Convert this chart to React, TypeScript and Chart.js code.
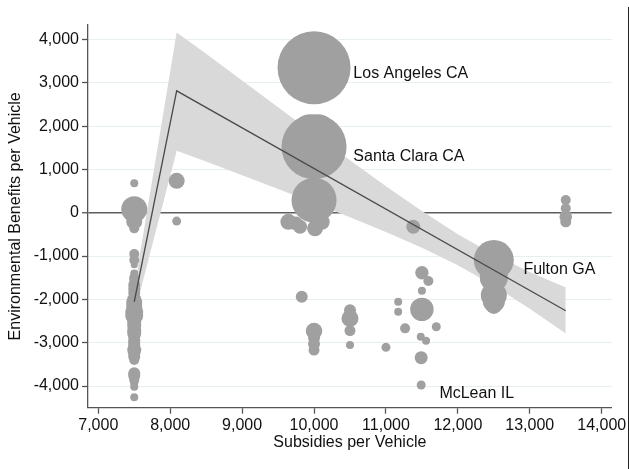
import { useEffect, useRef } from "react";
import { Chart, registerables } from "chart.js";

Chart.register(...registerables);

const FONT = "'Liberation Sans', Arial, Helvetica, sans-serif";

const xTickValues = [7000, 8000, 9000, 10000, 11000, 12000, 13000, 14000];
const yTickValues = [-4000, -3000, -2000, -1000, 0, 1000, 2000, 3000, 4000];

// bubbles: subsidy, benefit, radius
const bubbleX = [
  7500, 7500, 7500, 7500, 7500, 7500, 7500, 7500, 7500, 7500, 7500, 7500, 7500, 7500, 7500, 7500, 7500, 7500, 7500, 7500, 7500, 7500, 7500, 7500, 7500, 7500,
  7500, 7500, 7500, 7500, 7500, 7500, 7500, 7500, 7500, 7500, 7500, 7500, 7500,
  8090, 8090,
  10000, 10000, 9930, 10070, 10000, 9643, 9806, 10014, 10107, 9750,
  9829, 10000, 10000, 10000, 10000,
  10500, 10500, 10500, 10500,
  11000, 11170, 11170, 11266, 11380, 11500, 11590, 11500, 11500, 11700, 11484, 11558, 11490, 11490,
  12500, 12500, 12500, 12500, 12500,
  13500, 13500, 13500, 13500,
];
const bubbleY = [
  679, 80, -200, -360, -953, -1090, -1400, -1670, -1850, -2000, -2150, -2285, -2450, -2600, -2707, -2850, -2940, -3050, -3170, -3320, -3706, -3800, -3860, -4015, -4260, -1550,
  -1200, -1500, -1760, -2075, -2370, -2520, -2780, -3000, -3110, -3250, -3400, -3760, -3930,
  738, -192,
  3346, 1523, 1900, 1900, 290, -208, -323, -360, -208, -250,
  -1938, -2730, -2892, -3030, -3169,
  -2250, -2440, -2720, -3053,
  -3106, -2054, -2285, -2668, -323, -1385, -1576, -1800, -2230, -2631, -2862, -2954, -3346, -3977,
  -1092, -1500, -1900, -2050, -2150,
  293, 101, -92, -208,
];
const bubbleR = [
  4, 13, 8, 5, 5, 5, 4, 6, 6, 7, 8, 9, 7, 7, 7, 6, 6, 6, 7, 6, 6, 5, 5, 4, 4, 5,
  3.5, 5, 6, 8, 9, 7, 7, 6, 6, 6, 5, 6, 4,
  8, 4.5,
  36.5, 32.5, 16, 16, 22.5, 8, 7, 8, 8, 7,
  6, 8.3, 6, 6, 5.5,
  6, 8.5, 5.5, 4,
  4.5, 4, 4, 5, 7, 6.7, 5, 4, 11.7, 4.5, 4, 4, 6.5, 4.5,
  20, 14, 13, 11, 8,
  5, 5, 6.3, 5.5,
];

// fitted line
const fitX = [7500, 8090, 13500];
const fitY = [-2054, 2815, -2263];

// confidence band
const bandX = [7500, 8090, 8500, 9000, 9500, 10000, 10500, 11000, 11500, 12000, 12500, 13000, 13500];
const bandUpper = [-1750, 4163, 3674, 3053, 2435, 1819, 1211, 614, 39, -496, -965, -1369, -1723];
const bandLower = [-2350, 1431, 1186, 869, 549, 225, -105, -446, -809, -1214, -1683, -2217, -2785];

// point labels
const labelText = ["Los Angeles CA", "Santa Clara CA", "Fulton GA", "McLean IL"];
const labelX = [10547, 10547, 12911, 11743];
const labelY = [3205, 1305, -1310, -4180];

const fmt = (v: number) => Number(v).toLocaleString("en-US");

const labelPlugin = {
  id: "pointLabels",
  afterDatasetsDraw(chart: any) {
    const { ctx, scales } = chart;
    ctx.save();
    ctx.font = `16px ${FONT}`;
    ctx.fillStyle = "#111";
    ctx.textAlign = "left";
    ctx.textBaseline = "middle";
    labelText.forEach((t, i) => {
      ctx.fillText(t, scales.x.getPixelForValue(labelX[i]), scales.y.getPixelForValue(labelY[i]));
    });
    ctx.restore();
  },
};

export default function App() {
  const ref = useRef<HTMLCanvasElement | null>(null);

  useEffect(() => {
    document.body.style.margin = "0";
    const canvas = ref.current;
    if (!canvas) return;
    const chart = new Chart(canvas, {
      type: "bubble",
      data: {
        datasets: [
          {
            type: "line",
            data: bandX.map((x, i) => ({ x, y: bandUpper[i] })),
            borderColor: "rgba(0,0,0,0)",
            borderWidth: 0,
            pointRadius: 0,
            backgroundColor: "#d9d9d9",
            fill: "+1",
            tension: 0,
            order: 3,
          } as any,
          {
            type: "line",
            data: bandX.map((x, i) => ({ x, y: bandLower[i] })),
            borderColor: "rgba(0,0,0,0)",
            borderWidth: 0,
            pointRadius: 0,
            fill: false,
            tension: 0,
            order: 3,
          } as any,
          {
            type: "bubble",
            data: bubbleX.map((x, i) => ({ x, y: bubbleY[i], r: bubbleR[i] })),
            backgroundColor: "#a0a0a0",
            borderWidth: 0,
            hoverRadius: 0,
            order: 2,
          } as any,
          {
            type: "line",
            data: fitX.map((x, i) => ({ x, y: fitY[i] })),
            borderColor: "#4a4a4a",
            borderWidth: 1.3,
            pointRadius: 0,
            fill: false,
            tension: 0,
            order: 1,
          } as any,
        ],
      },
      options: {
        animation: false,
        responsive: false,
        events: [],
        layout: { padding: 0, autoPadding: false },
        plugins: { legend: { display: false }, tooltip: { enabled: false } },
        scales: {
          x: {
            type: "linear",
            min: 6857,
            max: 14139,
            afterBuildTicks: (s: any) => {
              s.ticks = xTickValues.map((value) => ({ value }));
            },
            afterFit: (s: any) => {
              s.height = 61.3;
              s.paddingLeft = 0;
              s.paddingRight = 17.3;
              s.paddingTop = 0;
              s.paddingBottom = 0;
            },
            grid: { drawOnChartArea: false, drawTicks: true, tickLength: 6, tickColor: "#555", tickWidth: 1.3 },
            border: { display: true, color: "#555", width: 1.3 },
            ticks: {
              font: { family: FONT, size: 16 },
              color: "#111",
              padding: 2.4,
              maxRotation: 0,
              autoSkip: false,
              callback: (v: any) => fmt(v),
            },
            title: {
              display: true,
              text: "Subsidies per Vehicle",
              font: { family: FONT, size: 16 },
              color: "#111",
              padding: { top: 0, bottom: 16.4 },
            },
          },
          y: {
            type: "linear",
            min: -4500,
            max: 4335,
            afterBuildTicks: (s: any) => {
              s.ticks = yTickValues.map((value) => ({ value }));
            },
            afterFit: (s: any) => {
              s.width = 88;
              s.paddingTop = 25;
              s.paddingBottom = 0;
              s.paddingLeft = 0;
              s.paddingRight = 0;
            },
            grid: {
              drawOnChartArea: true,
              drawTicks: true,
              tickLength: 6,
              tickColor: "#555",
              tickWidth: 1.3,
              color: (c: any) => (c.tick && c.tick.value === 0 ? "#5e5e5e" : "#e8eff1"),
              lineWidth: (c: any) => (c.tick && c.tick.value === 0 ? 1.5 : 1),
            },
            border: { display: true, color: "#555", width: 1.3 },
            ticks: {
              font: { family: FONT, size: 16 },
              color: "#111",
              padding: 3,
              autoSkip: false,
              callback: (v: any) => fmt(v),
            },
            title: {
              display: true,
              text: "Environmental Benefits per Vehicle",
              font: { family: FONT, size: 16 },
              color: "#111",
              padding: { top: 6, bottom: 0 },
            },
          },
        },
      } as any,
      plugins: [labelPlugin],
    });
    return () => chart.destroy();
  }, []);

  return (
    <div style={{ position: "relative", width: 629, height: 469, background: "#fff" }}>
      <canvas ref={ref} width={629} height={469} style={{ width: 629, height: 469, display: "block" }} />
      <div style={{ position: "absolute", left: 628, top: 7, width: 1, height: 462, background: "#222" }} />
    </div>
  );
}
